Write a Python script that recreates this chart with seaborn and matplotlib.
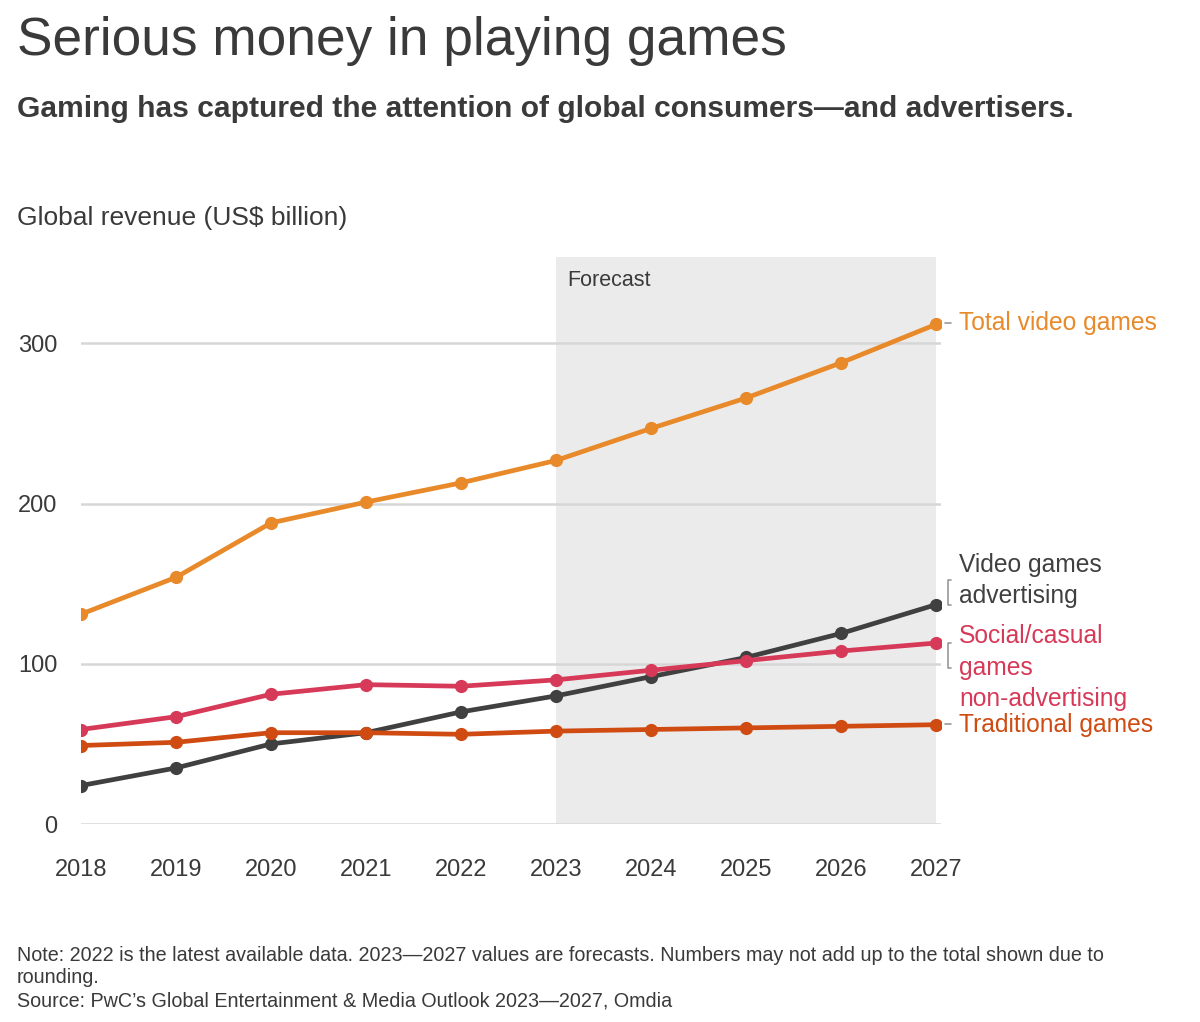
import pandas as pd
import seaborn as sns
import matplotlib.pyplot as plt
from matplotlib.lines import Line2D

years = [2018, 2019, 2020, 2021, 2022, 2023, 2024, 2025, 2026, 2027]
total_video = [131, 154, 188, 201, 213, 227, 247, 266, 288, 312]
video_ads = [24, 35, 50, 57, 70, 80, 92, 104, 119, 137]
social_casual = [59, 67, 81, 87, 86, 90, 96, 102, 108, 113]
traditional = [49, 51, 57, 57, 56, 58, 59, 60, 61, 62]

series = ['Total video games', 'Video games advertising',
          'Social/casual games non-advertising', 'Traditional games']
colors = ['#E8892A', '#404040', '#D63A58', '#CF4B12']

df = pd.DataFrame({
    'year': years * 4,
    'value': total_video + video_ads + social_casual + traditional,
    'series': [s for s in series for _ in years],
})

sns.set_theme(style='white')
plt.rcParams['font.family'] = ['Liberation Sans', 'DejaVu Sans']
txt = '#3a3a3a'

fig = plt.figure(figsize=(12, 10.22), dpi=100)
ax = fig.add_axes([81 / 1200, 198 / 1022, 860 / 1200, 567 / 1022])

ax.axvspan(2023, 2027, color='#ebebeb', zorder=0, lw=0)
for v in [0, 100, 200, 300]:
    ax.axhline(v, color='#d6d6d6', lw=1.8, zorder=1)

sns.lineplot(data=df, x='year', y='value', hue='series', palette=colors,
             hue_order=series, marker='o', markersize=9.5, markeredgewidth=0,
             lw=3.4, legend=False, ax=ax, zorder=3)

ax.set_xlim(2018, 2027.05)
ax.set_ylim(0, 354)
ax.set_xticks(years)
ax.set_yticks([0, 100, 200, 300])
ax.tick_params(axis='x', labelsize=17, colors=txt, pad=25, length=0)
ax.tick_params(axis='y', labelsize=17, colors=txt, pad=17, length=0)
for s in ax.spines.values():
    s.set_visible(False)
ax.set_xlabel('')
ax.set_ylabel('')
for lab in ax.get_xticklabels() + ax.get_yticklabels():
    lab.set_color(txt)

ax.text(2023.12, 346, 'Forecast', fontsize=15.5, color=txt, va='top')

# labels at the right end of the lines
lx = 2027.24
ax.text(lx, 312.5, 'Total video games', fontsize=17.7, color=colors[0], va='center')
ax.text(lx, 152, 'Video games\nadvertising', fontsize=17.7, color=colors[1],
        va='center', linespacing=1.4)
ax.text(lx, 97.5, 'Social/casual\ngames\nnon-advertising', fontsize=17.7,
        color=colors[2], va='center', linespacing=1.4)
ax.text(lx, 62, 'Traditional games', fontsize=17.7, color=colors[3], va='center')


def fy(p):
    return 1 - p / 1022


gray = '#9a9a9a'
for y in [323, 724]:
    fig.add_artist(Line2D([945 / 1200, 951 / 1200], [fy(y), fy(y)], color=gray, lw=1.2))
for y0, y1 in [(580, 605), (643, 668)]:
    fig.add_artist(Line2D([951 / 1200, 948 / 1200, 948 / 1200, 951 / 1200],
                          [fy(y0), fy(y0), fy(y1), fy(y1)], color=gray, lw=1.2))

fig.text(17 / 1200, fy(41), 'Serious money in playing games', fontsize=38.3,
         color=txt, va='center')
fig.text(17 / 1200, fy(109), 'Gaming has captured the attention of global consumers\u2014and advertisers.',
         fontsize=21.6, fontweight='bold', color=txt, va='center')
fig.text(17 / 1200, fy(218), 'Global revenue (US$ billion)', fontsize=19,
         color=txt, va='center')
fig.text(17 / 1200, fy(1010),
         'Note: 2022 is the latest available data. 2023\u20142027 values are forecasts. '
         'Numbers may not add up to the total shown due to\nrounding.\n'
         'Source: PwC\u2019s Global Entertainment & Media Outlook 2023\u20142027, Omdia',
         fontsize=14.2, color=txt, va='bottom', linespacing=1.25)

fig.savefig('out.png', dpi=100, facecolor='white')
